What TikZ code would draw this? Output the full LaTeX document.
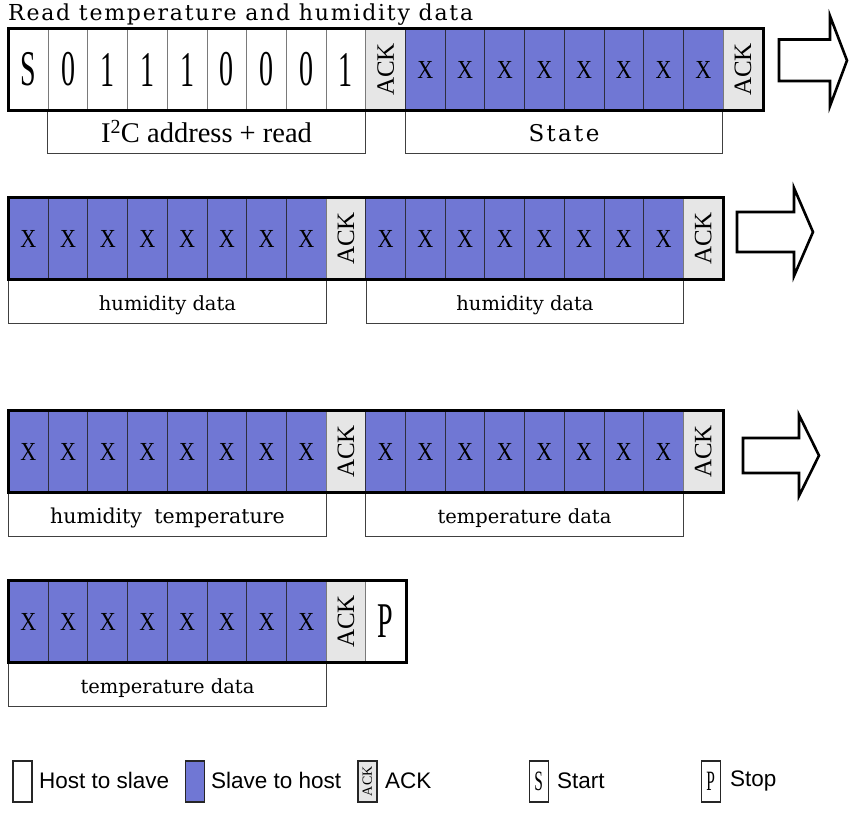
\documentclass[tikz,border=0pt]{standalone}
\usepackage{fontspec}
\usepackage{graphicx}
\setmainfont{Liberation Serif}
\newfontfamily\widefont{DejaVu Serif}
\newfontfamily\titlefont[LetterSpace=8]{DejaVu Serif}
\newfontfamily\statefont[LetterSpace=10]{DejaVu Serif}
\newfontfamily\legendfont{Liberation Sans}
\definecolor{slaveblue}{HTML}{7077D4}
\definecolor{ackgray}{HTML}{E6E6E6}
\definecolor{cellline}{HTML}{7A7A7A}
\definecolor{blueline}{HTML}{2E2E3E}
\newcommand\bitfont[1]{\scalebox{0.56}[1]{\fontsize{50}{50}\selectfont #1}}
\newcommand\cellX{\scalebox{0.85}[1]{\fontsize{26}{26}\selectfont X}}
\newcommand\ackrot{\rotatebox{90}{\fontsize{25}{25}\selectfont ACK}}
\tikzset{
  cell/.style={draw=cellline, line width=1pt, minimum width=39.7pt, minimum height=81pt, inner sep=0pt, anchor=north west},
  hostcell/.style={cell, fill=white},
  slavecell/.style={cell, fill=slaveblue, draw=blueline},
  ackcell/.style={cell, fill=ackgray},
  frame/.style={draw=black, line width=3pt, line join=miter},
  labelbox/.style={draw=black!75, line width=1pt, minimum height=43.5pt, inner sep=0pt, anchor=north west, text height=23pt, text depth=4.5pt, font=\widefont\fontsize{19.5}{19.5}\selectfont},
  blockarrow/.style={draw=black, fill=white, line width=2.6pt, line join=miter, miter limit=20},
  legbox/.style={draw=black!85, line width=1.5pt, minimum width=19pt, minimum height=41pt, inner sep=0pt, anchor=north west},
  legtext/.style={anchor=west, inner sep=0pt, font=\legendfont\fontsize{22.5}{22.5}\selectfont}
}
\begin{document}
\begin{tikzpicture}[x=1pt,y=-1pt]
\useasboundingbox (0,0) rectangle (863,819);
% title
\node[anchor=base west, inner sep=0pt, font=\titlefont\fontsize{22}{22}\selectfont] (title) at (8,20.5) {Read temperature and humidity data};

% ---------- Row 1 ----------
\node[labelbox, minimum width=318pt, text height=27pt, text depth=6pt, font=\fontsize{28.5}{28.5}\selectfont] (l1a) at (47,109.5) {I\textsuperscript{2}C address + read};
\node[labelbox, minimum width=317pt, font=\statefont\fontsize{23}{23}\selectfont] (l1b) at (405,109.5) {State};
\node[hostcell] (r1c0) at (8,28.5) {\bitfont{S}};
\foreach \i/\b in {1/0,2/1,3/1,4/1,5/0,6/0,7/0,8/1}
  \node[hostcell] (r1c\i) at ({8+\i*39.7},28.5) {\bitfont{\b}};
\node[ackcell] (r1c9) at ({8+9*39.7},28.5) {\ackrot};
\foreach \i in {10,...,17}
  \node[slavecell] (r1c\i) at ({8+\i*39.7},28.5) {\cellX};
\node[ackcell] (r1c18) at ({8+18*39.7},28.5) {\ackrot};
\draw[frame] (r1c0.north west) rectangle (r1c18.south east);
\draw[blockarrow] (779,39.5) -- (830,39.5) -- (830,16) -- (847,60.5) -- (830,106) -- (830,81) -- (779,81) -- cycle;

% ---------- Row 2 ----------
\node[labelbox, minimum width=318pt] (l2a) at (8,279) {humidity data};
\node[labelbox, minimum width=317pt] (l2b) at (366,279) {humidity data};
\foreach \i in {0,...,7}
  \node[slavecell] (r2c\i) at ({8+\i*39.7},197.5) {\cellX};
\node[ackcell] (r2c8) at ({8+8*39.7},197.5) {\ackrot};
\foreach \i in {9,...,16}
  \node[slavecell] (r2c\i) at ({8+\i*39.7},197.5) {\cellX};
\node[ackcell] (r2c17) at ({8+17*39.7},197.5) {\ackrot};
\draw[frame] (r2c0.north west) rectangle (r2c17.south east);
\draw[blockarrow] (737,212) -- (794,212) -- (794,188) -- (813,232) -- (794,276) -- (794,252) -- (737,252) -- cycle;

% ---------- Row 3 ----------
\node[labelbox, minimum width=318pt, font=\widefont\fontsize{20.5}{20.5}\selectfont] (l3a) at (8,492) {humidity\hspace{0.6em}temperature};
\node[labelbox, minimum width=318pt] (l3b) at (365,492) {temperature data};
\foreach \i in {0,...,7}
  \node[slavecell] (r3c\i) at ({8+\i*39.7},410.5) {\cellX};
\node[ackcell] (r3c8) at ({8+8*39.7},410.5) {\ackrot};
\foreach \i in {9,...,16}
  \node[slavecell] (r3c\i) at ({8+\i*39.7},410.5) {\cellX};
\node[ackcell] (r3c17) at ({8+17*39.7},410.5) {\ackrot};
\draw[frame] (r3c0.north west) rectangle (r3c17.south east);
\draw[blockarrow] (743,438) -- (799,438) -- (799,415) -- (819,455.5) -- (799,496) -- (799,473) -- (743,473) -- cycle;

% ---------- Row 4 ----------
\node[labelbox, minimum width=318pt] (l4a) at (8,662) {temperature data};
\foreach \i in {0,...,7}
  \node[slavecell] (r4c\i) at ({8+\i*39.7},580.5) {\cellX};
\node[ackcell] (r4c8) at ({8+8*39.7},580.5) {\ackrot};
\node[hostcell] (r4c9) at ({8+9*39.7},580.5) {\bitfont{P}};
\draw[frame] (r4c0.north west) rectangle (r4c9.south east);

% ---------- Legend ----------
\node[legbox, fill=white] (lg1) at (12,760) {};
\node[legtext] (lt1) at (39,780.5) {Host to slave};
\node[legbox, fill=slaveblue] (lg2) at (184.5,760) {};
\node[legtext] (lt2) at (211,780.5) {Slave to host};
\node[legbox, fill=ackgray] (lg3) at (357,760) {\rotatebox{90}{\fontsize{14}{14}\selectfont ACK}};
\node[legtext] (lt3) at (385,780.5) {ACK};
\node[legbox, fill=white] (lg4) at (528.5,760) {\scalebox{0.55}[1]{\fontsize{28}{28}\selectfont S}};
\node[legtext] (lt4) at (557,780.5) {Start};
\node[legbox, fill=white] (lg5) at (700.5,760) {\scalebox{0.55}[1]{\fontsize{28}{28}\selectfont P}};
\node[legtext] (lt5) at (730,780.5) {Stop};
\end{tikzpicture}
\end{document}
